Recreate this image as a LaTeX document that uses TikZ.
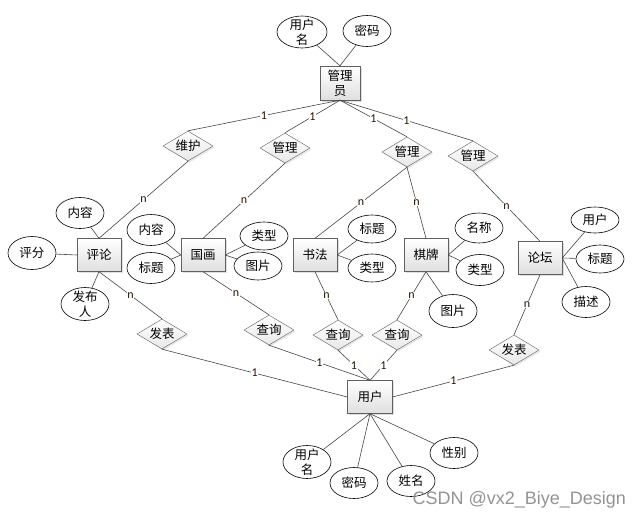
\documentclass[tikz,border=0pt]{standalone}
\usepackage{fontspec}
\newfontfamily\cjk{Noto Sans CJK SC}
\newfontfamily\lblfont{Carlito}
\newfontfamily\wmfont{Liberation Sans}
\usepackage{tikz}
\usetikzlibrary{shapes.geometric,shadows}

\begin{document}
\begin{tikzpicture}[x=1pt,y=-1pt,font=\cjk\fontsize{12.5}{15}\selectfont,
      entity/.style={rectangle,draw=gray!75!black,top color=white,bottom color=gray!25,
        drop shadow={shadow xshift=1.5pt,shadow yshift=-1.5pt,opacity=0.25},
        minimum width=44pt,minimum height=33pt,inner sep=1pt,align=center},
      attr/.style={ellipse,draw,line width=0.6pt,fill=white,minimum width=48pt,
        minimum height=31pt,inner sep=-4pt,align=center},
      rel/.style={diamond,draw=gray!75!black,top color=white,bottom color=gray!18,
        drop shadow={shadow xshift=1.5pt,shadow yshift=-1.5pt,opacity=0.2},
        aspect=1.67,minimum width=50pt,minimum height=30pt,inner sep=0.5pt},
      every edge/.style={draw=gray!55!black,line width=0.6pt},
      card/.style={fill=white,inner sep=0.8pt,text=black!85!orange,
        font=\lblfont\fontsize{12}{12}\selectfont}]
      \useasboundingbox (0,0) rectangle (640,520);

      % entities
      \node[entity,minimum width=40pt,minimum height=34pt] (admin) at (340,83) {管理\\员};
      \node[entity] (comment) at (99,255) {评论};
      \node[entity] (guohua) at (203,255) {国画};
      \node[entity] (shufa) at (315,255) {书法};
      \node[entity] (qipai) at (426,255) {棋牌};
      \node[entity] (luntan) at (540,258) {论坛};
      \node[entity,minimum width=45pt] (user) at (370,397) {用户};

      % relations
      \node[rel] (weihu) at (188,146) {维护};
      \node[rel] (manage1) at (285,148) {管理};
      \node[rel] (manage2) at (407,152) {管理};
      \node[rel] (manage3) at (473,156) {管理};
      \node[rel] (publish1) at (162,334) {发表};
      \node[rel] (query1) at (269,330) {查询};
      \node[rel] (query2) at (338,335) {查询};
      \node[rel] (query3) at (397,335) {查询};
      \node[rel] (publish2) at (514,350) {发表};

      % attributes
      \node[attr,minimum width=50pt,minimum height=32pt] (adminname) at (302,32) {用户\\名};
      \node[attr] (adminpwd) at (367,31) {密码};
      \node[attr] (cmtcontent) at (80,213) {内容};
      \node[attr,minimum height=33pt] (cmtscore) at (32,253) {评分};
      \node[attr,minimum height=33pt] (cmtauthor) at (85,304) {发布\\人};
      \node[attr] (ghcontent) at (151,230) {内容};
      \node[attr] (ghtitle) at (151,268) {标题};
      \node[attr,minimum height=28pt] (ghtype) at (264,236) {类型};
      \node[attr,minimum height=28pt] (ghpic) at (258,266) {图片};
      \node[attr,minimum height=28pt] (sftitle) at (372,229) {标题};
      \node[attr,minimum height=28pt] (sftype) at (372,268) {类型};
      \node[attr,minimum height=30pt] (qpname) at (479,228) {名称};
      \node[attr] (qptype) at (480,270) {类型};
      \node[attr,minimum height=33pt] (qppic) at (453,311) {图片};
      \node[attr,minimum height=26pt] (ltuser) at (595,220) {用户};
      \node[attr,minimum height=28pt] (lttitle) at (600,259) {标题};
      \node[attr] (ltdesc) at (586,302) {描述};
      \node[attr,minimum height=33pt] (username) at (307,462) {用户\\名};
      \node[attr] (userpwd) at (354,483) {密码};
      \node[attr] (userrealname) at (411,481) {姓名};
      \node[attr] (usersex) at (454,453) {性别};

      \node[font=\wmfont\fontsize{18}{18}\selectfont,text=gray!85,anchor=west]
        (mark) at (409,500) {CSDN @vx2\_Biye\_Design};

      % relation lines
      \path
        (admin.south) edge node[card] {1} (weihu.north)
        (admin.south) edge node[card] {1} (manage1.north)
        (admin.south) edge node[card] {1} (manage2.north)
        (admin.south) edge node[card] {1} (manage3.north)
        (weihu.south) edge node[card] {n} (comment.north)
        (manage1.south) edge node[card] {n} (guohua.north)
        (manage2.south) edge node[card] {n} (shufa.north)
        (manage2.south) edge node[card] {n} (qipai.north)
        (manage3.south) edge node[card] {n} (luntan.north)

        (comment.south) edge node[card] {n} (publish1.north)
        (guohua.south) edge node[card] {n} (query1.north)
        (shufa.south) edge node[card] {n} (query2.north)
        (qipai.south) edge node[card] {n} (query3.north)
        (luntan.south) edge node[card] {n} (publish2.north)
        (publish1.south) edge node[card] {1} (user.west)
        (query1.south) edge node[card] {1} (user.north)
        (query2.south) edge node[card] {1} (user.north)
        (query3.south) edge node[card] {1} (user.north)
        (publish2.south) edge node[card] {1} (user.east);

      % attribute lines
      \path
        (admin.north) edge (adminname)
        (admin.north) edge (adminpwd)
        (comment.north) edge (cmtcontent)
        (comment.west) edge (cmtscore)
        (comment.south) edge (cmtauthor)
        (guohua.west) edge (ghcontent)
        (guohua.west) edge (ghtitle)
        (guohua.east) edge (ghtype)
        (guohua.east) edge (ghpic)
        (shufa.east) edge (sftitle)
        (shufa.east) edge (sftype)
        (qipai.east) edge (qpname)
        (qipai.east) edge (qptype)
        (qipai.south) edge (qppic)
        (luntan.east) edge (ltuser)
        (luntan.east) edge (lttitle)
        (luntan.east) edge (ltdesc)
        (user.south) edge (username)
        (user.south) edge (userpwd)
        (user.south) edge (userrealname)
        (user.south) edge (usersex);
\end{tikzpicture}
\end{document}
